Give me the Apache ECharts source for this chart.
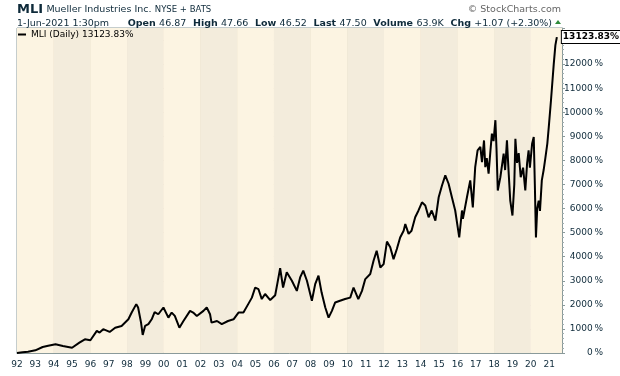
<!DOCTYPE html>
<html>
<head>
<meta charset="utf-8">
<script src="https://cdn.jsdelivr.net/npm/echarts@6/dist/echarts.min.js"></script>
<style>
  html, body { margin: 0; padding: 0; background: #fff; }
  #chart { width: 620px; height: 376px; }
</style>
</head>
<body>
<div id="chart"></div>
<script>
// MLI daily close, % change since start of 1992
const years = [
  1992.0, 1992.3, 1992.6, 1993.0, 1993.4, 1993.7, 1994.1, 1994.5, 1995.0, 1995.4,
  1995.7, 1996.0, 1996.35, 1996.5, 1996.7, 1997.05, 1997.35, 1997.7, 1998.07, 1998.25,
  1998.5, 1998.6, 1998.76, 1998.85, 1998.98, 1999.16, 1999.34, 1999.5, 1999.7, 1999.98,
  2000.25, 2000.43, 2000.6, 2000.85, 2001.07, 2001.43, 2001.6, 2001.8, 2002.16, 2002.34,
  2002.52, 2002.6, 2002.9, 2003.16, 2003.5, 2003.8, 2004.07, 2004.34, 2004.6, 2004.8,
  2004.98, 2005.16, 2005.34, 2005.52, 2005.8, 2006.07, 2006.25, 2006.34, 2006.5, 2006.7,
  2006.98, 2007.25, 2007.43, 2007.6, 2007.8, 2008.07, 2008.25, 2008.43, 2008.6, 2008.8,
  2008.98, 2009.16, 2009.34, 2009.6, 2009.88, 2010.16, 2010.34, 2010.6, 2010.8, 2010.98,
  2011.25, 2011.43, 2011.6, 2011.8, 2011.98, 2012.16, 2012.34, 2012.52, 2012.7, 2012.88,
  2013.07, 2013.16, 2013.34, 2013.5, 2013.7, 2013.88, 2014.07, 2014.25, 2014.43, 2014.6,
  2014.8, 2014.98, 2015.16, 2015.34, 2015.52, 2015.7, 2015.88, 2016.1, 2016.25, 2016.3,
  2016.52, 2016.7, 2016.84, 2016.97, 2017.1, 2017.25, 2017.34, 2017.45, 2017.52, 2017.6,
  2017.7, 2017.8, 2017.88, 2017.97, 2018.07, 2018.13, 2018.2, 2018.34, 2018.45, 2018.52,
  2018.6, 2018.7, 2018.8, 2018.88, 2019.0, 2019.1, 2019.16, 2019.25, 2019.34, 2019.45,
  2019.58, 2019.7, 2019.8, 2019.88, 2019.95, 2020.07, 2020.16, 2020.22, 2020.28, 2020.35,
  2020.43, 2020.5, 2020.6, 2020.7, 2020.8, 2020.9, 2020.98, 2021.1, 2021.25, 2021.34,
  2021.42
];
const pctChange = [
  0, 30, 55, 110, 250, 300, 360, 290, 220, 430,
  570, 530, 920, 850, 990, 875, 1050, 1125, 1400, 1680,
  2030, 1890, 1260, 750, 1125, 1200, 1400, 1700, 1610, 1890,
  1470, 1680, 1540, 1050, 1330, 1750, 1680, 1540, 1750, 1890,
  1610, 1260, 1330, 1200, 1330, 1400, 1680, 1680, 2030, 2300,
  2720, 2650, 2240, 2450, 2200, 2400, 3140, 3520, 2720, 3350,
  3000, 2580, 3140, 3420, 3000, 2170, 2860, 3210, 2510, 1890,
  1470, 1750, 2100, 2170, 2240, 2300, 2720, 2240, 2580, 3070,
  3280, 3830, 4250, 3550, 3690, 4630, 4390, 3900, 4320, 4800,
  5080, 5360, 4950, 5080, 5640, 5920, 6260, 6130, 5640, 5920,
  5500, 6470, 6960, 7380, 7030, 6470, 5920, 4800, 5920, 5570,
  6470, 7170, 6050, 7720, 8420, 8560, 7930, 8830, 7720, 8100,
  7450, 8400, 9110, 8800, 9670, 8500, 6750, 7300, 7900, 8280,
  7600, 8830, 7400, 6330, 5710, 7000, 8900, 7900, 8300, 7300,
  7700, 6750, 7900, 8420, 7700, 8690, 8970, 7000, 4800, 6000,
  6330, 5900, 7170, 7600, 8140, 8700, 9390, 10500, 12000, 12790,
  13123.83
];
const yTicks = [0, 1000, 2000, 3000, 4000, 5000, 6000, 7000, 8000, 9000, 10000, 11000, 12000];
const quote = [
  ['Open', '46.87'], ['High', '47.66'], ['Low', '46.52'],
  ['Last', '47.50'], ['Volume', '63.9K'], ['Chg', '+1.07 (+2.30%)']
];

const FONT = '"DejaVu Sans", Verdana, sans-serif';
const TXT = '#0E2A3A';
const lastPct = pctChange[pctChange.length - 1];
const seriesName = 'MLI (Daily) ' + lastPct.toFixed(2) + '%';

const chart = echarts.init(document.getElementById('chart'), null, { renderer: 'canvas' });

const quoteText = quote.map(q => '{b|' + q[0] + '} {v|' + q[1] + '}').join('  ');

chart.setOption({
  animation: false,
  textStyle: { fontFamily: FONT },
  grid: {
    left: 17, right: 58, top: 28, bottom: 23,
    show: true,
    backgroundColor: '#FCF4E2',
    borderColor: '#8A9A9A',
    borderWidth: 1
  },
  legend: {
    left: 18, top: 30, padding: 0,
    icon: 'rect', itemWidth: 8, itemHeight: 2,
    itemGap: 4,
    textStyle: { fontFamily: FONT, fontSize: 9, color: '#000' },
    data: [seriesName]
  },
  graphic: [
    {
      type: 'text', left: 17, top: 3,
      style: {
        text: '{t|MLI} {n|Mueller Industries Inc.} {x|NYSE + BATS}',
        rich: {
          t: { fontFamily: FONT, fontSize: 13, fontWeight: 'bold', fill: TXT },
          n: { fontFamily: FONT, fontSize: 9.5, fill: TXT },
          x: { fontFamily: FONT, fontSize: 8.5, fill: TXT }
        }
      }
    },
    {
      type: 'text', left: 17, top: 19,
      style: { text: '1-Jun-2021 1:30pm', fontFamily: FONT, fontSize: 9.5, fill: TXT }
    },
    {
      type: 'text', right: 68, top: 18,
      style: {
        text: quoteText,
        rich: {
          b: { fontFamily: FONT, fontSize: 9.5, fontWeight: 'bold', fill: TXT },
          v: { fontFamily: FONT, fontSize: 9.5, fill: TXT }
        }
      }
    },
    {
      type: 'polygon',
      shape: { points: [[555, 24], [561, 24], [558, 20]] },
      style: { fill: '#2E8B3A' }
    },
    {
      type: 'text', right: 59, top: 5,
      style: { text: '\u00A9 StockCharts.com', fontFamily: FONT, fontSize: 9.5, fill: '#666' }
    }
  ],
  xAxis: [
    {
      type: 'value',
      min: 1992, max: 2021.7, interval: 1,
      axisLine: { show: true, lineStyle: { color: '#8A9A9A' } },
      axisTick: { show: false },
      axisLabel: {
        fontFamily: FONT, fontSize: 9, color: TXT, margin: 7,
        showMaxLabel: false,
        formatter: v => (Math.abs(v - Math.round(v)) < 1e-6 ? String(Math.round(v) % 100).padStart(2, '0') : '')
      },
      splitLine: { show: true, lineStyle: { color: '#E3DAC4', width: 1 } }
    },
    {
      type: 'value',
      min: 1992, max: 2021.7, interval: 2,
      position: 'top',
      axisLine: { show: false },
      axisTick: { show: false },
      axisLabel: { show: false },
      splitLine: { show: false },
      splitArea: { show: true, areaStyle: { color: ['#FCF4E2', '#F3ECDC'] } }
    }
  ],
  yAxis: {
    type: 'value',
    position: 'right',
    min: 0, max: 13500, interval: 1000,
    axisLine: { show: true, lineStyle: { color: '#8A9A9A' } },
    axisTick: { show: true, length: 3, inside: false, lineStyle: { color: '#8A9A9A' } },
    minorTick: { show: true, splitNumber: 5, length: 2, lineStyle: { color: '#A0ACAC' } },
    axisLabel: {
      fontFamily: FONT, fontSize: 9, color: TXT,
      align: 'right', margin: 41,
      formatter: v => (yTicks.indexOf(v) >= 0 ? v + '\u2009%' : '')
    },
    splitLine: { show: true, lineStyle: { color: '#E3DAC4', width: 1 } }
  },
  series: [
    {
      name: seriesName,
      type: 'line',
      data: years.map((y, i) => [y, pctChange[i]]),
      showSymbol: false,
      lineStyle: { color: '#000', width: 2 },
      itemStyle: { color: '#000' },
      endLabel: {
        show: true,
        distance: 5,
        formatter: p => p.value[1].toFixed(2) + '%',
        fontFamily: FONT, fontSize: 9, fontWeight: 'bold', color: '#000',
        backgroundColor: '#fff', borderColor: '#000', borderWidth: 1,
        padding: [2, 1, 1, 1]
      }
    }
  ]
});
</script>
</body>
</html>
